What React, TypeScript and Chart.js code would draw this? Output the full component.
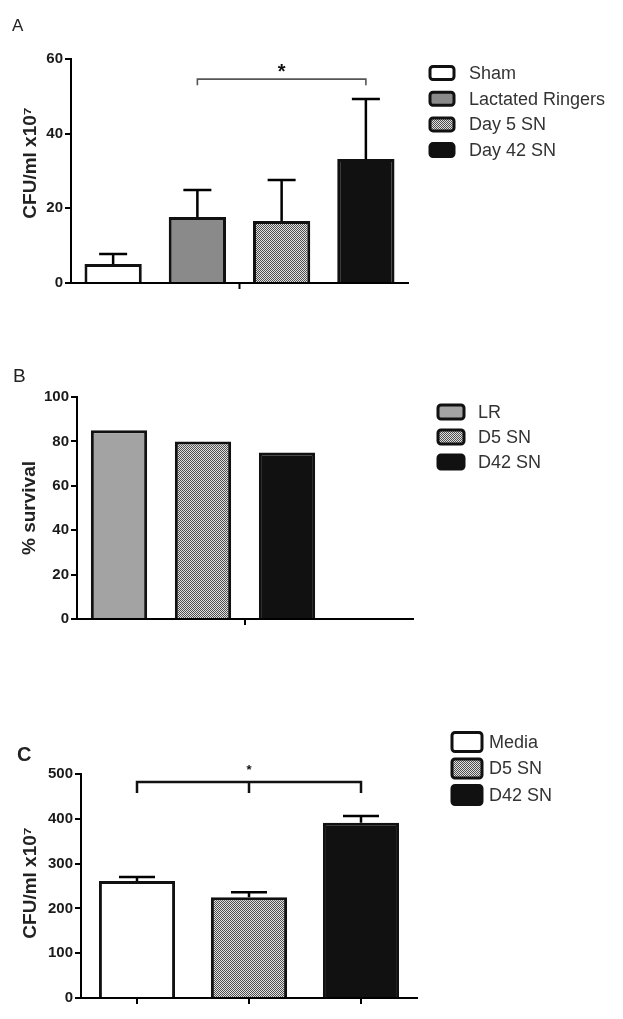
import React, { useEffect, useRef } from "react";
import { Chart, registerables } from "chart.js";
Chart.register(...registerables);

// ---------- Panel A ----------
const catsA = ["Sham", "Lactated Ringers", "Day 5 SN", "Day 42 SN"];
const valsA = [5.1, 17.7, 16.6, 33.2];
const errA = [2.7, 7.2, 11.0, 16.1];
const ticksA = [0, 20, 40, 60];
const sigA = { from: 1, to: 3, value: 54.6, label: "*" };

// ---------- Panel B ----------
const catsB = ["LR", "D5 SN", "D42 SN"];
const valsB = [85, 80, 75];
const ticksB = [0, 20, 40, 60, 80, 100];

// ---------- Panel C ----------
const catsC = ["Media", "D5 SN", "D42 SN"];
const valsC = [261, 225, 391];
const errC = [9, 11, 15];
const ticksC = [0, 100, 200, 300, 400, 500];
const sigC = { from: 0, to: 2, mid: 1, value: 482, label: "*" };

const FONT = '"Liberation Sans", Arial, Helvetica, sans-serif';
const W = 623;
const Y_W = 55;

function makePattern(ctx: CanvasRenderingContext2D) {
  const c = document.createElement("canvas");
  c.width = 2;
  c.height = 2;
  const g = c.getContext("2d")!;
  g.fillStyle = "#e0e0e0";
  g.fillRect(0, 0, 2, 2);
  g.fillStyle = "#505050";
  g.fillRect(0, 0, 1, 1);
  g.fillRect(1, 1, 1, 1);
  return ctx.createPattern(c, "repeat")!;
}

type Props = {
  top: number;
  height: number;
  area: { left: number; right: number; top: number; bottom: number };
  labels: string[];
  values: (number | null)[];
  errors?: number[];
  colors: string[];
  legendLabels: string[];
  legend: { boxX: number; boxW: number; boxH: number; y0: number; dy: number; textX: number };
  yTicks: number[];
  barPct: number;
  capHalf?: number;
  xTicks: "center" | "categories";
  sig?: { from: number; to: number; mid?: number; value: number; label: string };
  sigStyle?: { leg: number; color: string; width: number; starFont: string; starOff: number };
  letter: { text: string; x: number; y: number; font: string };
  yTitle: { text: string; x: number; y: number };
};

function Panel(p: Props) {
  const ref = useRef<HTMLCanvasElement>(null);
  useEffect(() => {
    const canvas = ref.current!;
    const ctx0 = canvas.getContext("2d")!;
    const pat = makePattern(ctx0);
    const fill = (c: string) => (c === "pattern" ? pat : c);
    const T = p.top;

    const plugin = {
      id: "extras",
      afterDraw(chart: any) {
        const c: CanvasRenderingContext2D = chart.ctx;
        const ys = chart.scales.y;
        const meta = chart.getDatasetMeta(0);
        const ca = chart.chartArea;
        c.save();
        // error bars
        if (p.errors) {
          c.strokeStyle = "#000";
          c.lineWidth = 2.5;
          p.errors.forEach((e, i) => {
            const v = p.values[i];
            if (v == null) return;
            const x = meta.data[i].x;
            const y0 = ys.getPixelForValue(v);
            const y1 = ys.getPixelForValue(v + e);
            c.beginPath();
            c.moveTo(x, y0);
            c.lineTo(x, y1);
            c.moveTo(x - (p.capHalf || 14), y1);
            c.lineTo(x + (p.capHalf || 14), y1);
            c.stroke();
          });
        }
        // x axis ticks
        c.strokeStyle = "#000";
        c.lineWidth = 2;
        const xt: number[] =
          p.xTicks === "center"
            ? [(ca.left + ca.right) / 2]
            : p.values.map((_, i) => meta.data[i].x);
        xt.forEach((x) => {
          c.beginPath();
          c.moveTo(x, ca.bottom);
          c.lineTo(x, ca.bottom + 6);
          c.stroke();
        });
        // significance bracket
        if (p.sig && p.sigStyle) {
          const s = p.sig;
          const st = p.sigStyle;
          const xa = meta.data[s.from].x;
          const xb = meta.data[s.to].x;
          const yb = ys.getPixelForValue(s.value);
          c.strokeStyle = st.color;
          c.lineWidth = st.width;
          c.beginPath();
          c.moveTo(xa, yb + st.leg);
          c.lineTo(xa, yb);
          c.lineTo(xb, yb);
          c.lineTo(xb, yb + st.leg);
          if (s.mid != null) {
            const xm = meta.data[s.mid].x;
            c.moveTo(xm, yb);
            c.lineTo(xm, yb + st.leg);
          }
          c.stroke();
          c.fillStyle = "#111";
          c.font = st.starFont;
          c.textAlign = "center";
          c.textBaseline = "middle";
          const xc = s.mid != null ? meta.data[s.mid].x : (xa + xb) / 2;
          c.fillText(s.label, xc, yb + st.starOff);
        }
        // legend
        const L = p.legend;
        c.font = `18px ${FONT}`;
        c.textAlign = "left";
        c.textBaseline = "middle";
        p.legendLabels.forEach((lab, i) => {
          const cy = L.y0 + i * L.dy - T;
          c.beginPath();
          (c as any).roundRect(L.boxX, cy - L.boxH / 2, L.boxW, L.boxH, 3);
          c.fillStyle = fill(p.colors[i]) as any;
          c.fill();
          c.lineWidth = 3;
          c.strokeStyle = "#111";
          c.stroke();
          c.fillStyle = "#333";
          c.fillText(lab, L.textX, cy + 1);
        });
        // panel letter
        c.fillStyle = "#222";
        c.font = p.letter.font;
        c.textAlign = "left";
        c.textBaseline = "alphabetic";
        c.fillText(p.letter.text, p.letter.x, p.letter.y - T);
        // y title
        c.translate(p.yTitle.x, p.yTitle.y - T);
        c.rotate(-Math.PI / 2);
        c.font = `bold 19px ${FONT}`;
        c.textAlign = "center";
        c.textBaseline = "middle";
        c.fillText(p.yTitle.text, 0, 0);
        c.restore();
      },
    };

    const yt = p.yTicks;
    const chart = new Chart(canvas, {
      type: "bar",
      data: {
        labels: p.labels,
        datasets: [
          {
            data: p.values as any,
            backgroundColor: p.values.map((_, i) => fill(p.colors[i] || "#fff")) as any,
            borderColor: "#111",
            borderWidth: 3,
            borderSkipped: "start",
            categoryPercentage: 1,
            barPercentage: p.barPct,
          },
        ],
      },
      options: {
        responsive: false,
        maintainAspectRatio: false,
        animation: false,
        events: [],
        layout: {
          padding: {
            left: p.area.left - Y_W,
            right: W - p.area.right,
            top: p.area.top - T,
            bottom: T + p.height - p.area.bottom,
          },
        },
        plugins: { legend: { display: false }, tooltip: { enabled: false }, title: { display: false } },
        scales: {
          x: {
            type: "category",
            grid: { display: false, drawTicks: false },
            ticks: { display: false },
            border: { display: true, color: "#000", width: 2 },
            afterFit: (s: any) => {
              s.height = 0;
            },
          },
          y: {
            min: yt[0],
            max: yt[yt.length - 1],
            ticks: {
              stepSize: yt[1] - yt[0],
              font: { family: FONT, size: 15, weight: "bold" },
              color: "#1a1a1a",
              padding: 2,
            },
            grid: { drawOnChartArea: false, drawTicks: true, tickLength: 6, color: "#000", lineWidth: 2 },
            border: { display: true, color: "#000", width: 2 },
            afterFit: (s: any) => {
              s.width = Y_W;
            },
          },
        },
      },
      plugins: [plugin],
    });
    return () => chart.destroy();
  }, []);
  return (
    <canvas
      ref={ref}
      width={W}
      height={p.height}
      style={{ position: "absolute", left: 0, top: p.top, width: W, height: p.height, display: "block" }}
    />
  );
}

export default function App() {
  return (
    <div style={{ position: "absolute", left: 0, top: 0, width: W, height: 1019, background: "#fff", overflow: "hidden" }}>
      <Panel
        top={0}
        height={330}
        area={{ left: 71, right: 408, top: 59, bottom: 283 }}
        labels={catsA}
        values={valsA}
        errors={errA}
        colors={["#ffffff", "#8a8a8a", "pattern", "#111111"]}
        legendLabels={catsA}
        legend={{ boxX: 430, boxW: 24, boxH: 13, y0: 73, dy: 25.7, textX: 469 }}
        yTicks={ticksA}
        barPct={0.68}
        capHalf={14}
        xTicks="center"
        sig={sigA}
        sigStyle={{ leg: 6, color: "#555", width: 1.6, starFont: `bold 20px ${FONT}`, starOff: -7 }}
        letter={{ text: "A", x: 12, y: 31, font: `17px ${FONT}` }}
        yTitle={{ text: "CFU/ml x10⁷", x: 31, y: 163 }}
      />
      <Panel
        top={330}
        height={320}
        area={{ left: 77, right: 413, top: 397, bottom: 619 }}
        labels={[...catsB, ""]}
        values={[...valsB, null]}
        colors={["#a3a3a3", "pattern", "#111111"]}
        legendLabels={catsB}
        legend={{ boxX: 438, boxW: 26, boxH: 14, y0: 412, dy: 25, textX: 478 }}
        yTicks={ticksB}
        barPct={0.67}
        xTicks="center"
        letter={{ text: "B", x: 13, y: 382, font: `19px ${FONT}` }}
        yTitle={{ text: "% survival", x: 30, y: 508 }}
      />
      <Panel
        top={650}
        height={369}
        area={{ left: 81, right: 417, top: 774, bottom: 998 }}
        labels={catsC}
        values={valsC}
        errors={errC}
        colors={["#ffffff", "pattern", "#111111"]}
        legendLabels={catsC}
        legend={{ boxX: 452, boxW: 30, boxH: 19, y0: 742, dy: 26.5, textX: 489 }}
        yTicks={ticksC}
        barPct={0.68}
        capHalf={18}
        xTicks="categories"
        sig={sigC}
        sigStyle={{ leg: 11, color: "#111", width: 2.5, starFont: `bold 13px ${FONT}`, starOff: -12 }}
        letter={{ text: "C", x: 17, y: 761, font: `bold 20px ${FONT}` }}
        yTitle={{ text: "CFU/ml x10⁷", x: 31, y: 883 }}
      />
    </div>
  );
}
